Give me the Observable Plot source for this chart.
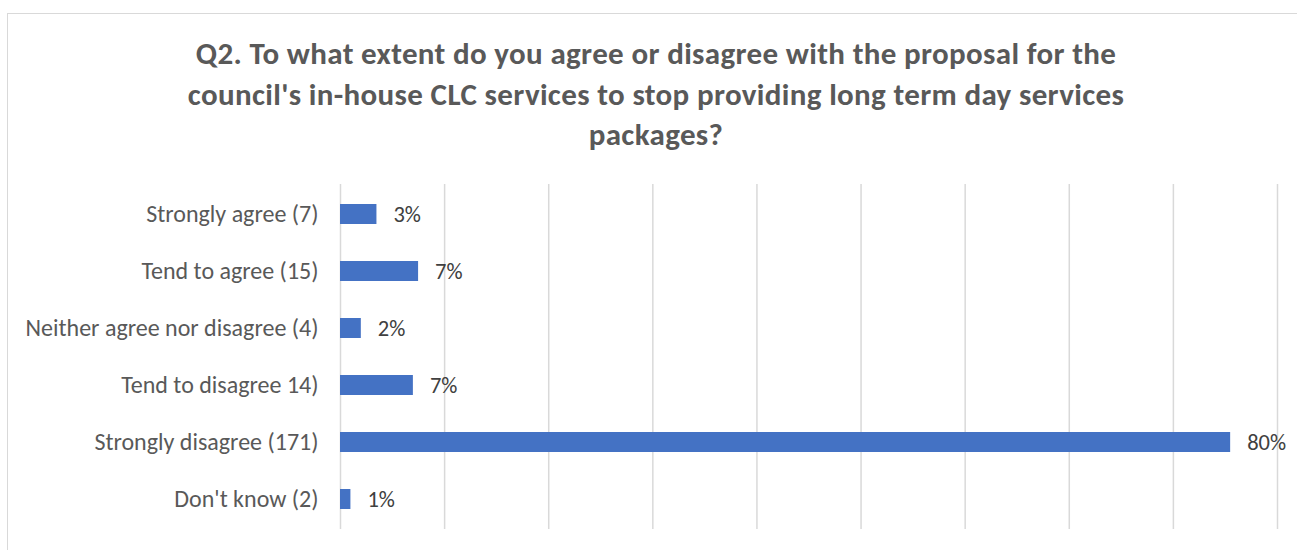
<!DOCTYPE html>
<html>
<head>
<meta charset="utf-8">
<script src="https://cdn.jsdelivr.net/npm/d3@7"></script>
<script src="https://cdn.jsdelivr.net/npm/@observablehq/plot@0.6"></script>
<style>
  html, body { margin: 0; padding: 0; background: #fff; }
  #wrap { position: relative; width: 1297px; height: 550px; overflow: hidden; background: #fff; }
  #frame { position: absolute; left: 7px; top: 13px; width: 1310px; height: 560px; border: 1.5px solid #d9d9d9; box-sizing: border-box; }
  #title { position: absolute; left: 7px; width: 1298px; top: 33px; text-align: center; font-family: Carlito, Lato, "Liberation Sans", sans-serif; font-weight: bold; font-size: 31px; letter-spacing: 0.35px; line-height: 40.5px; color: #595959; white-space: nowrap; }
  #chart { position: absolute; left: 0; top: 0; }
</style>
</head>
<body>
<div id="wrap">
  <div id="frame"></div>
  <div id="title"></div>
  <div id="chart"></div>
</div>
<script>
const titleLines = [
  "Q2. To what extent do you agree or disagree with the proposal for the",
  "council's in-house CLC services to stop providing long term day services",
  "packages?"
];
const categories = [
  "Strongly agree (7)",
  "Tend to agree (15)",
  "Neither agree nor disagree (4)",
  "Tend to disagree 14)",
  "Strongly disagree (171)",
  "Don't know (2)"
];
const counts = [7, 15, 4, 14, 171, 2];
const percentLabels = ["3%", "7%", "2%", "7%", "80%", "1%"];
const xTicks = [0, 20, 40, 60, 80, 100, 120, 140, 160, 180];

const titleEl = document.getElementById("title");
titleLines.forEach((t) => {
  const d = document.createElement("div");
  d.textContent = t;
  titleEl.appendChild(d);
});

const data = categories.map((c, i) => ({category: c, count: counts[i], label: percentLabels[i]}));

const chart = Plot.plot({
  width: 1297,
  height: 550,
  marginLeft: 340,
  marginRight: 20,
  marginTop: 184,
  marginBottom: 21,
  style: {fontFamily: "Carlito, Lato, 'Liberation Sans', sans-serif", background: "transparent", color: "#595959"},
  x: {domain: [0, 180], axis: null},
  y: {domain: categories, paddingInner: 0.65, paddingOuter: 0.325, axis: null},
  marks: [
    Plot.ruleX(xTicks, {stroke: "#d9d9d9", strokeWidth: 1.5}),
    Plot.barX(data, {x: "count", y: "category", fill: "#4472C4"}),
    Plot.text(data, {x: "count", y: "category", text: "label", dx: 16.5, textAnchor: "start", fill: "#404040", fontSize: 22.5}),
    Plot.axisY({tickSize: 0, tickPadding: 22, fontSize: 24, fill: "#595959", label: null})
  ]
});
document.getElementById("chart").appendChild(chart);
</script>
</body>
</html>
